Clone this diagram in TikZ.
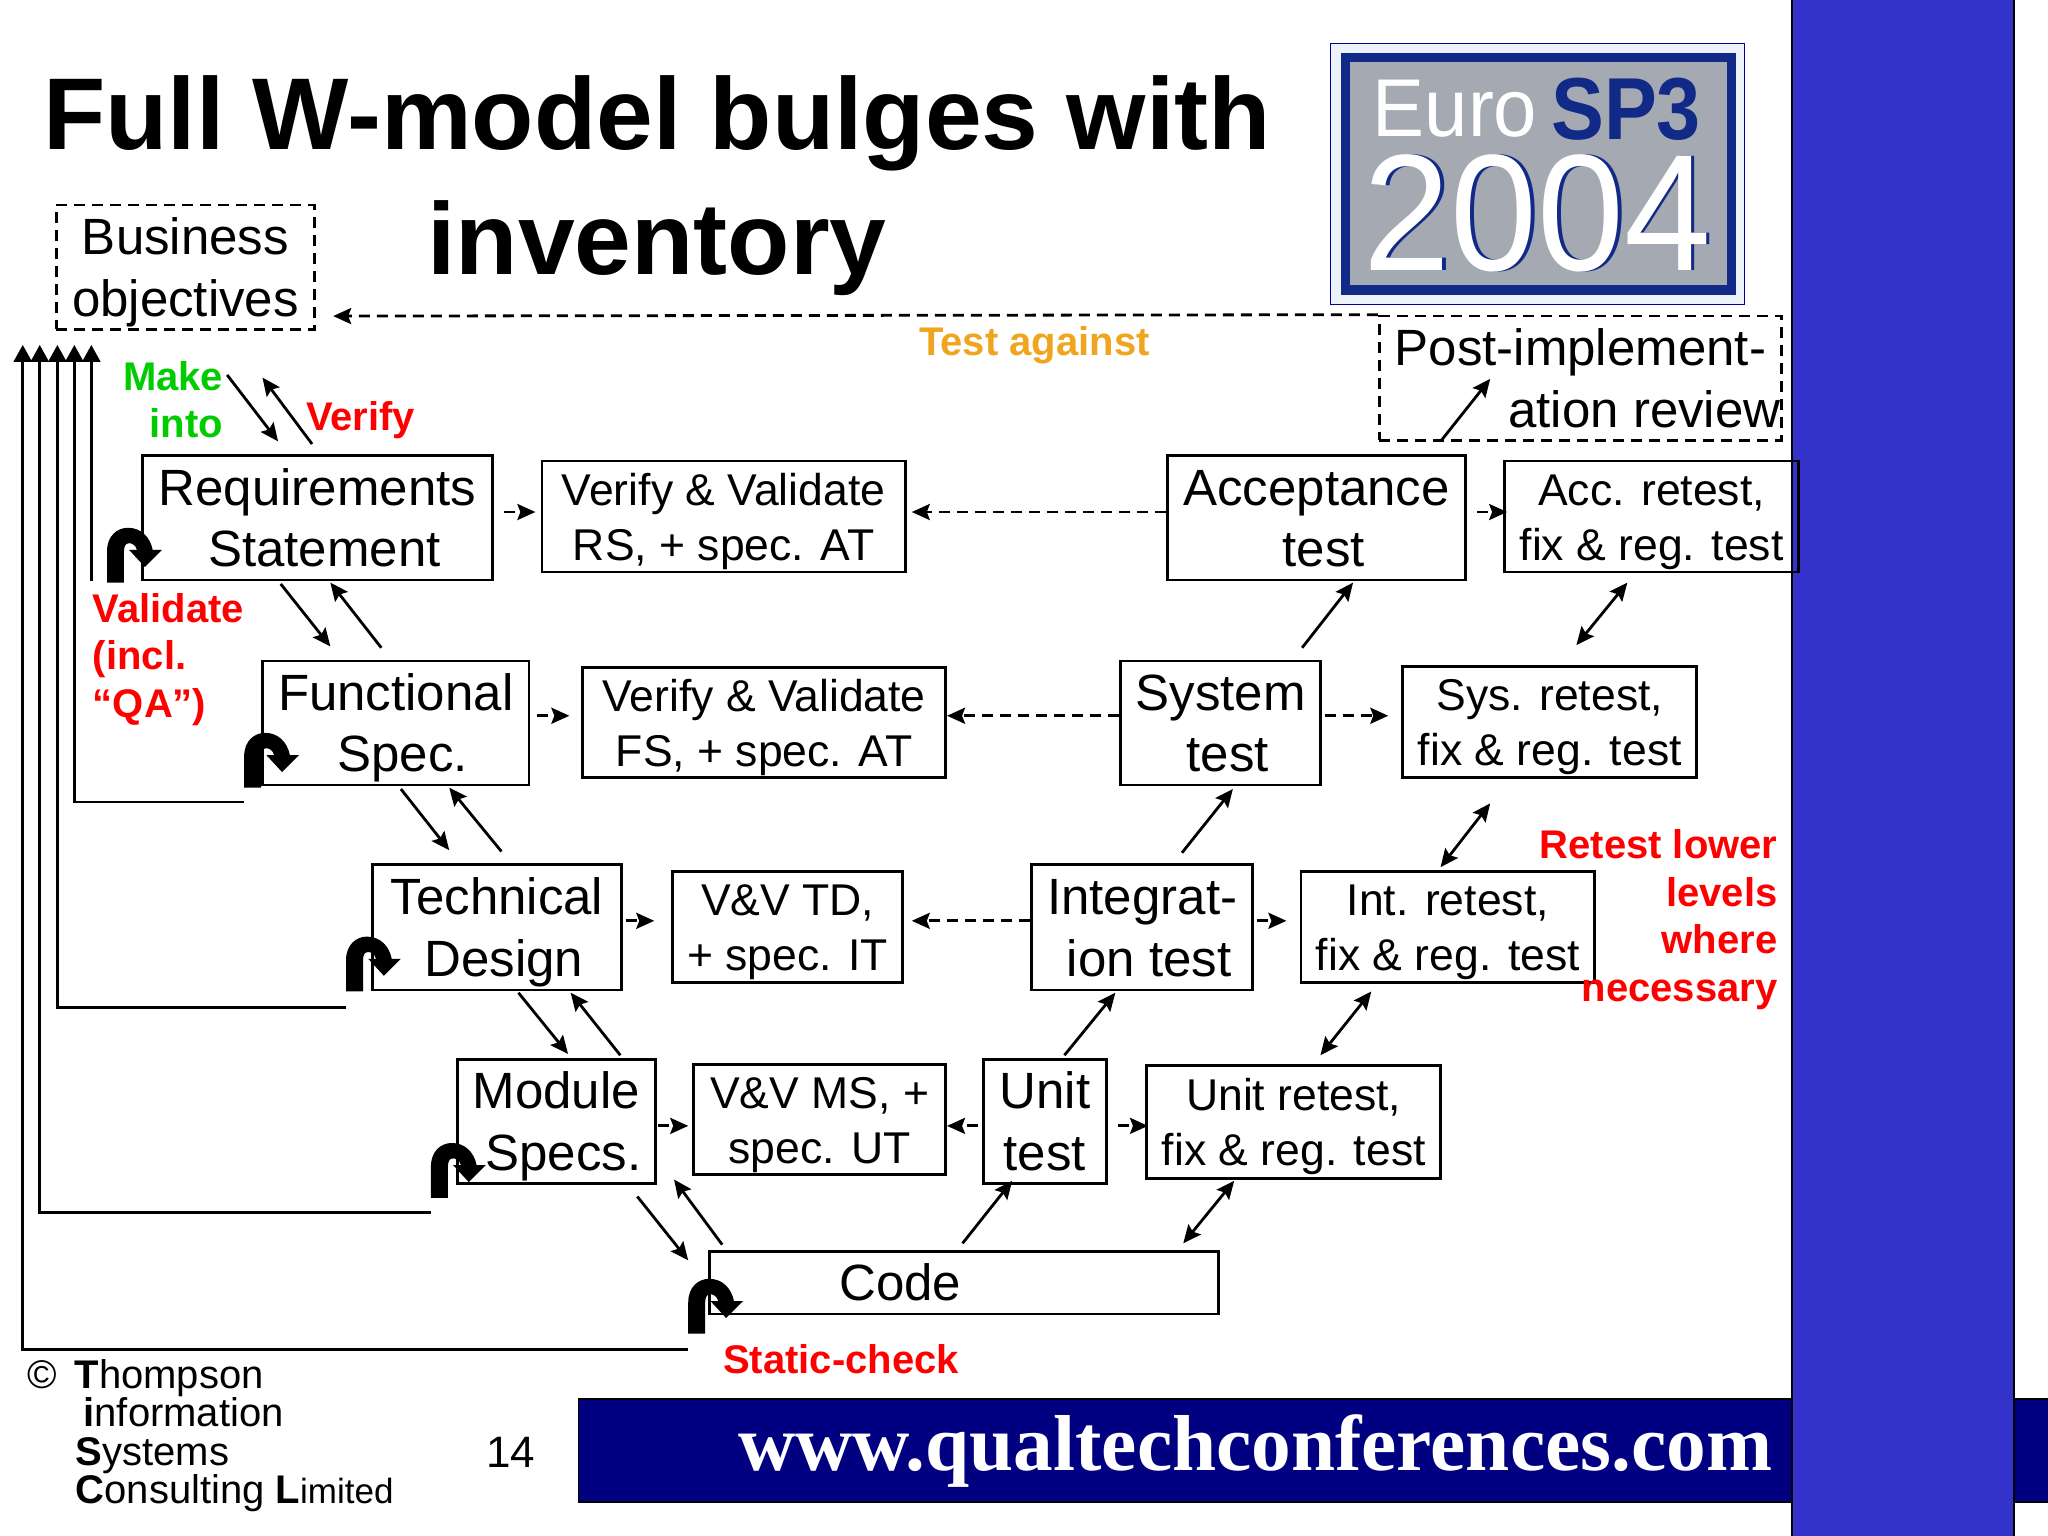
\documentclass[tikz,border=0pt]{standalone}
\usepackage{fontspec}
\setmainfont{Liberation Sans}
\newfontfamily\urlfont{Liberation Serif}
\usetikzlibrary{arrows.meta,calc}
\newcommand\fsz[2]{\fontsize{#1}{#2}\selectfont}
\newcommand\mybox[7]{\node[#6,minimum width={(#4-#2)*1.306},minimum height={(#5-#3)*1.306}] (#1) at ({(#2+#4)/2},{(#3+#5)/2}) {#7};}
\newcommand\uturn[1]{\fill[shift={(#1)}] (0,0) -- (0,-24) .. controls (0,-36) and (8,-42) .. (16,-42) .. controls (26,-42) and (33,-35) .. (35,-25) -- (42,-25) -- (29,-12) -- (17,-25) -- (23,-25) .. controls (22,-29) and (18,-31) .. (16,-30) .. controls (14,-30) and (13,-27) .. (13,-24) -- (13,0) -- cycle;}
\definecolor{navyband}{RGB}{0,0,128}
\definecolor{sideblue}{RGB}{51,51,204}
\definecolor{logoblue}{RGB}{17,42,135}
\definecolor{logogrey}{RGB}{165,170,178}
\definecolor{logopale}{RGB}{236,242,250}
\definecolor{redlabel}{RGB}{255,0,0}
\definecolor{greenlabel}{RGB}{0,204,0}
\definecolor{orangelabel}{RGB}{240,165,30}
\tikzset{
 x=1.306pt,y=-1.306pt,
 onebox/.style={draw=black,line width=2.8pt,inner sep=0pt,align=center,font=\fsz{51}{61.4}},
 bigbox/.style={onebox,text height=110pt,text depth=12pt},
 smallbox/.style={draw=black,line width=2.8pt,inner sep=0pt,align=center,font=\fsz{44.5}{55},text height=97.5pt,text depth=10pt},
 dashbox/.style={bigbox,dash pattern=on 11pt off 7pt},
 arr/.style={line width=2.8pt,-{Stealth[length=18pt,width=16pt,inset=3pt]}},
 darr/.style={line width=2.8pt,{Stealth[length=18pt,width=16pt,inset=3pt]}-{Stealth[length=18pt,width=16pt,inset=3pt]}},
 dasharr/.style={arr,dash pattern=on 11pt off 7pt},
 uparr/.style={line width=2.8pt,-{Triangle[length=17pt,width=18pt]}},
 lab/.style={inner sep=0pt,font=\fsz{40}{47.6}\bfseries,align=center},
}
\begin{document}
\begin{tikzpicture}
\useasboundingbox (0,0) rectangle (1568,1176);
\fill[white] (0,0) rectangle (1568,1176);
% footer band and side bar
\filldraw[fill=navyband,draw=black,line width=1.5pt] (443,1071) rectangle (1570,1150);
\filldraw[fill=sideblue,draw=black,line width=2.8pt] (1372,-3) rectangle (1542,1180);
\node[inner sep=0pt,text=white,font=\urlfont\fsz{79.3}{90}\bfseries] (url) at (961,1111) {www.qualtechconferences.com};
% logo
\filldraw[fill=logopale,draw=blue!60!black,line width=1pt] (1019,33) rectangle (1336,233);
\filldraw[fill=logogrey,draw=logoblue,line width=9.5pt] (1030,44) rectangle (1325.5,222);
\node[inner sep=0pt,text=white,xscale=.95,font=\fsz{82}{90}] (euro) at (1114,83) {Euro};
\node[inner sep=0pt,text=logoblue,xscale=.9,font=\fsz{88}{90}\bfseries] (sp) at (1245,84) {SP3};
\node[inner sep=0pt,text=logoblue,xscale=.94,font=\fsz{166}{170}] (yeara) at (1180,163) {2004};
\node[inner sep=0pt,text=white,xscale=.94,font=\fsz{166}{170}] (yearb) at (1177,163) {2004};
% title
\node[inner sep=0pt,align=center,font=\fsz{102}{125}\bfseries] (title) at (503,142) {Full W-model bulges with\\inventory};
% boxes
\mybox{bo}{43}{157}{241}{252}{dashbox}{Business\\objectives}
\mybox{pir}{1056}{242}{1364}{337}{dashbox}{Post-implement-\\\hspace*{128pt}ation review}
\mybox{req}{109}{349}{377}{444}{bigbox}{Requirements\\\hspace*{14pt}Statement}
\mybox{vvrs}{415}{353}{693}{438}{smallbox}{Verify \& Validate\\RS, + spec. AT}
\mybox{acc}{894}{349}{1122}{444}{bigbox}{Acceptance\\\hspace*{14pt}test}
\mybox{accre}{1152}{353}{1377}{438}{smallbox}{Acc. retest,\\fix \& reg. test}
\mybox{func}{201}{506}{405}{601}{bigbox}{Functional\\\hspace*{14pt}Spec.}
\mybox{vvfs}{446}{511}{724}{595}{smallbox}{Verify \& Validate\\FS, + spec. AT}
\mybox{sys}{858}{506}{1011}{601}{bigbox}{System\\\hspace*{14pt}test}
\mybox{sysre}{1074}{510}{1299}{595}{smallbox}{Sys. retest,\\fix \& reg. test}
\mybox{tech}{285}{662}{476}{758}{bigbox}{Technical\\\hspace*{14pt}Design}
\mybox{td}{515}{667}{691}{752}{smallbox}{V\&V TD,\\+ spec. IT}
\mybox{int}{790}{662}{959}{758}{bigbox}{Integrat-\\\hspace*{14pt}ion test}
\mybox{intre}{996}{667}{1221}{752}{smallbox}{Int. retest,\\fix \& reg. test}
\mybox{mod}{350}{811}{502}{906}{bigbox}{Module\\\hspace*{14pt}Specs.}
\mybox{ms}{531}{815}{724}{899}{smallbox}{V\&V MS, +\\spec. UT}
\mybox{unit}{753}{811}{847}{906}{bigbox}{Unit\\test}
\mybox{ure}{878}{816}{1103}{902}{smallbox}{Unit retest,\\fix \& reg. test}
\mybox{code}{543}{958}{933}{1006}{onebox}{Code\hspace*{127pt}}
% u-turn arrows
\uturn{$(req.south west)+(-26,1)$}
\uturn{$(func.south west)+(-13,1)$}
\uturn{$(tech.south west)+(-19,0)$}
\uturn{$(mod.south west)+(-19,10)$}
\uturn{$(code.south west)+(-15,14)$}
% validate feedback arrows
\draw[uparr] ($(req.south west)+(-38,0)$) -- ($(bo.south west)+(28,11)$);
\draw[uparr] ($(func.south west)+(-13,12)$) -| ($(bo.south west)+(15,11)$);
\draw[uparr] ($(tech.south west)+(-19,12)$) -| ($(bo.south west)+(2,11)$);
\draw[uparr] ($(mod.south west)+(-19,21)$) -| ($(bo.south west)+(-11.5,11)$);
\draw[uparr] ($(code.south west)+(-15,26)$) -| ($(bo.south west)+(-24.5,11)$);
% left leg of the W
\draw[arr] ($(bo.south west)+(132,34)$) -- ($(req.north west)+(105,-10)$);
\draw[arr] ($(req.north west)+(131,-8)$) -- ($(bo.south west)+(159,36)$);
\draw[arr] ($(req.south west)+(107,2)$) -- ($(func.north west)+(53,-10)$);
\draw[arr] ($(func.north west)+(92,-9)$) -- ($(req.south west)+(145,1)$);
\draw[arr] ($(func.south west)+(107,2)$) -- ($(tech.north west)+(60,-10)$);
\draw[arr] ($(tech.north west)+(100,-9)$) -- ($(func.south west)+(144,1)$);
\draw[arr] ($(tech.south west)+(113,1)$) -- ($(mod.north west)+(86,-3)$);
\draw[arr] ($(mod.north west)+(126,-2)$) -- ($(tech.south west)+(153,1)$);
\draw[arr] ($(mod.south west)+(139,9)$) -- ($(code.north west)+(-15,8)$);
\draw[arr] ($(code.north west)+(11,-4)$) -- ($(mod.south east)+(13,-4)$);
% right leg of the W
\draw[arr] ($(code.north west)+(195,-5)$) -- ($(unit.south west)+(23,-3)$);
\draw[arr] ($(unit.north west)+(63,-2)$) -- ($(int.south west)+(65,1)$);
\draw[arr] ($(int.north west)+(116,-8)$) -- ($(sys.south west)+(87,2)$);
\draw[arr] ($(sys.north west)+(140,-9)$) -- ($(acc.south west)+(143,1)$);
\draw[arr] ($(acc.north west)+(210,-10)$) -- ($(pir.south west)+(86,-48)$);
\draw[darr] ($(code.north west)+(364,-5)$) -- ($(ure.south west)+(68,1)$);
\draw[darr] ($(ure.north west)+(134,-7)$) -- ($(intre.south west)+(55,6)$);
\draw[darr] ($(intre.north west)+(108,-2)$) -- ($(sysre.south west)+(68,19)$);
\draw[darr] ($(sysre.north west)+(134,-15)$) -- ($(accre.south west)+(95,7)$);
% dashed horizontals
\draw[dasharr] ($(req.east)+(8,-4.5)$) -- ($(vvrs.west)+(-4,-3.5)$);
\draw[dasharr] ($(acc.west)+(0,-4.5)$) -- ($(vvrs.east)+(4,-3.5)$);
\draw[dasharr] ($(acc.east)+(8,-4.5)$) -- ($(accre.west)+(3,-3.5)$);
\draw[dasharr] ($(func.east)+(5,-5.5)$) -- ($(vvfs.west)+(-9,-5)$);
\draw[dasharr] ($(sys.west)+(0,-5.5)$) -- ($(vvfs.east)+(0,-5)$);
\draw[dasharr] ($(sys.east)+(2,-5.5)$) -- ($(sysre.west)+(-10,-4.5)$);
\draw[dasharr] ($(tech.east)+(2,-5)$) -- ($(td.west)+(-13,-4.5)$);
\draw[dasharr] ($(int.west)+(0,-5)$) -- ($(td.east)+(6,-4.5)$);
\draw[dasharr] ($(int.east)+(2,-5)$) -- ($(intre.west)+(-10,-4.5)$);
\draw[dasharr] ($(mod.east)+(1,3.5)$) -- ($(ms.west)+(-3,5)$);
\draw[dasharr] ($(unit.west)+(-3,3.5)$) -- ($(ms.east)+(0,5)$);
\draw[dasharr] ($(unit.east)+(8,3.5)$) -- ($(ure.west)+(2,3)$);
\draw[dasharr] (pir.north west) -- ($(bo.east)+(13,37.5)$);
% coloured labels
\node[lab,text=orangelabel] (testag) at (792,264) {Test against};
\node[lab,text=greenlabel,align=right,anchor=east] (make) at (171,306) {Make\\into};
\node[lab,text=redlabel] (verify) at (276,322) {Verify};
\node[lab,text=redlabel,align=left,anchor=west] (valid) at (71,505) {Validate\\(incl.\\“QA”)};
\node[lab,text=redlabel,align=right,anchor=east] (retest) at (1361,704) {Retest lower\\levels\\where\\necessary};
\node[lab,text=redlabel] (static) at (644,1041) {Static-check};
% footer text
\node[inner sep=0pt,align=left,anchor=west,font=\fsz{40}{38.5}] (tis) at (21,1099) {\makebox[47pt][l]{©}\textbf{T}hompson\\\hspace*{56pt}\textbf{i}nformation\\\hspace*{48pt}\textbf{S}ystems\\\hspace*{48pt}\textbf{C}onsulting \textbf{L}{\fsz{35}{38.5}imited}};
\node[inner sep=0pt,font=\fsz{44}{50}] (pageno) at (391,1112) {14};
\end{tikzpicture}
\end{document}
